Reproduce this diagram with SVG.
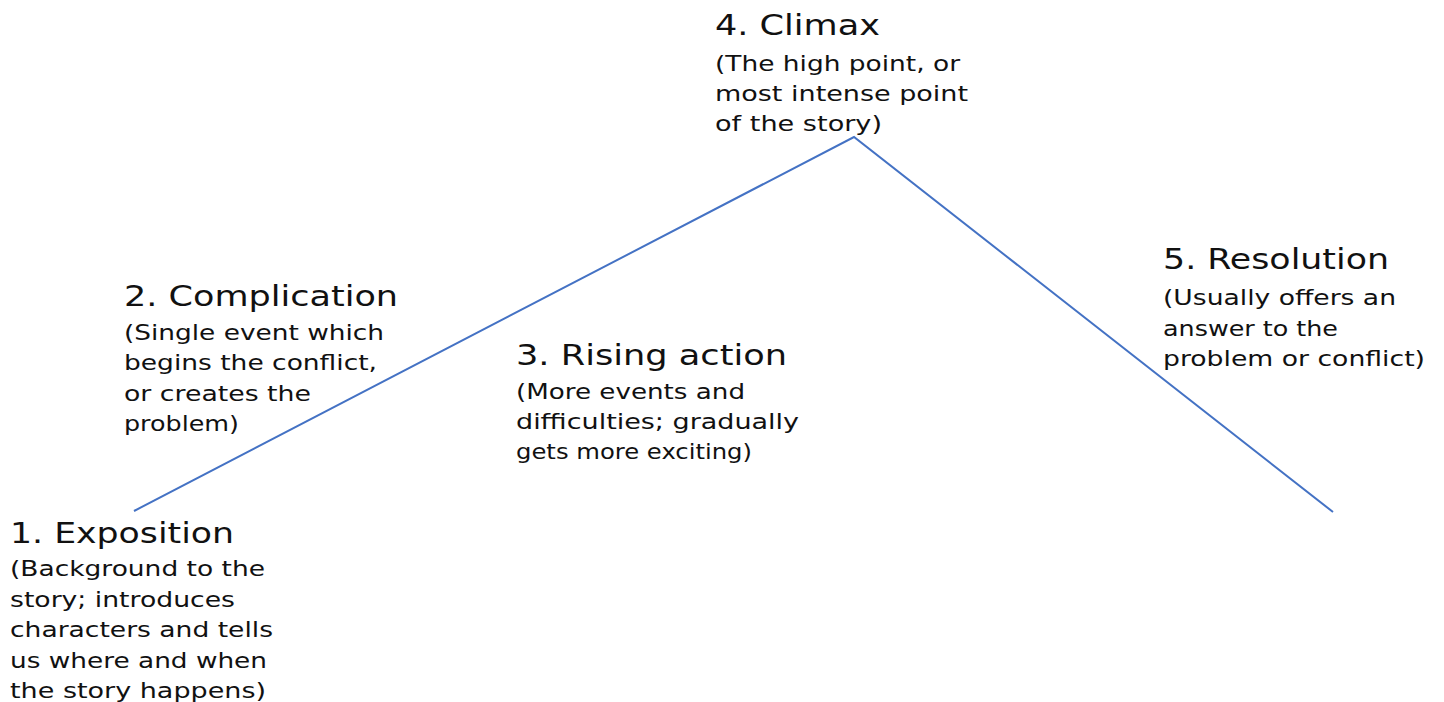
<svg xmlns="http://www.w3.org/2000/svg" width="1444" height="702" viewBox="0 0 1444 702">
<style>
.t{font-family:"DejaVu Sans","Liberation Sans",sans-serif;font-size:29px;fill:#111}
.b{font-family:"DejaVu Sans","Liberation Sans",sans-serif;font-size:21px;fill:#111}
.ln{fill:none;stroke:#4472C4;stroke-width:2}
</style>
<rect width="1444" height="702" fill="#fff"/>
<g id="connectors">
<polyline class="ln" points="134,511 854,137 1333,512"/>
</g>
<g id="n1">
<text class="t" x="10" y="543" textLength="224" lengthAdjust="spacingAndGlyphs">1. Exposition</text>
<text class="b" x="10" y="576" textLength="255" lengthAdjust="spacingAndGlyphs">(Background to the</text>
<text class="b" x="10" y="607" textLength="225" lengthAdjust="spacingAndGlyphs">story; introduces</text>
<text class="b" x="10" y="637" textLength="263" lengthAdjust="spacingAndGlyphs">characters and tells</text>
<text class="b" x="10" y="668" textLength="257" lengthAdjust="spacingAndGlyphs">us where and when</text>
<text class="b" x="10" y="698" textLength="256" lengthAdjust="spacingAndGlyphs">the story happens)</text>
</g>
<g id="n2">
<text class="t" x="124" y="306" textLength="274" lengthAdjust="spacingAndGlyphs">2. Complication</text>
<text class="b" x="124" y="340" textLength="260" lengthAdjust="spacingAndGlyphs">(Single event which</text>
<text class="b" x="124" y="370" textLength="253" lengthAdjust="spacingAndGlyphs">begins the conflict,</text>
<text class="b" x="124" y="401" textLength="187" lengthAdjust="spacingAndGlyphs">or creates the</text>
<text class="b" x="124" y="431" textLength="115" lengthAdjust="spacingAndGlyphs">problem)</text>
</g>
<g id="n3">
<text class="t" x="516" y="365" textLength="271" lengthAdjust="spacingAndGlyphs">3. Rising action</text>
<text class="b" x="516" y="399" textLength="229" lengthAdjust="spacingAndGlyphs">(More events and</text>
<text class="b" x="516" y="429" textLength="283" lengthAdjust="spacingAndGlyphs">difficulties; gradually</text>
<text class="b" x="516" y="459" textLength="236" lengthAdjust="spacingAndGlyphs">gets more exciting)</text>
</g>
<g id="n4">
<text class="t" x="715" y="35" textLength="165" lengthAdjust="spacingAndGlyphs">4. Climax</text>
<text class="b" x="715" y="71" textLength="245" lengthAdjust="spacingAndGlyphs">(The high point, or</text>
<text class="b" x="715" y="101" textLength="253" lengthAdjust="spacingAndGlyphs">most intense point</text>
<text class="b" x="715" y="131" textLength="167" lengthAdjust="spacingAndGlyphs">of the story)</text>
</g>
<g id="n5">
<text class="t" x="1163" y="269" textLength="226" lengthAdjust="spacingAndGlyphs">5. Resolution</text>
<text class="b" x="1163" y="305" textLength="233" lengthAdjust="spacingAndGlyphs">(Usually offers an</text>
<text class="b" x="1163" y="336" textLength="175" lengthAdjust="spacingAndGlyphs">answer to the</text>
<text class="b" x="1163" y="366" textLength="262" lengthAdjust="spacingAndGlyphs">problem or conflict)</text>
</g>
</svg>
